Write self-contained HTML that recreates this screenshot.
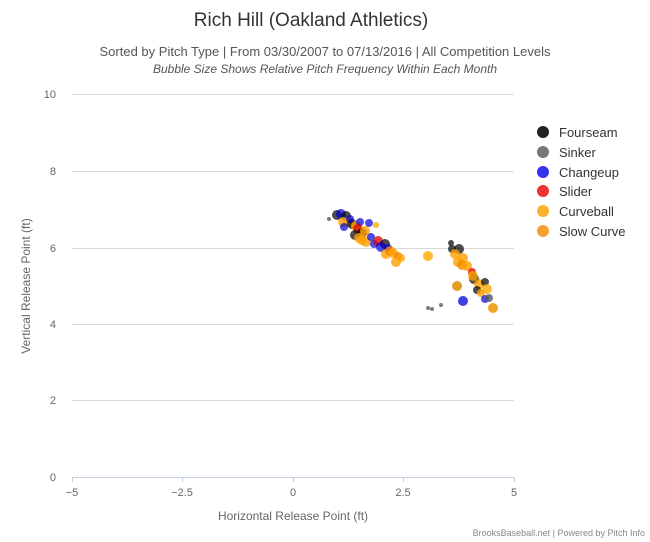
<!DOCTYPE html>
<html><head><meta charset="utf-8"><style>
body{margin:0;background:#fff;}
svg{display:block;font-family:"Liberation Sans",sans-serif;}
</style></head><body>
<svg width="650" height="542" viewBox="0 0 650 542">
<rect width="650" height="542" fill="#fff"/>
<text x="311" y="26" text-anchor="middle" font-size="19" fill="#333">Rich Hill (Oakland Athletics)</text>
<text x="325" y="56" text-anchor="middle" font-size="13" fill="#555">Sorted by Pitch Type | From 03/30/2007 to 07/13/2016 | All Competition Levels</text>
<text x="325" y="73" text-anchor="middle" font-size="12" font-style="italic" fill="#555">Bubble Size Shows Relative Pitch Frequency Within Each Month</text>
<g stroke="#d8d8d8" stroke-width="1">
<line x1="72" x2="514" y1="94.5" y2="94.5"/>
<line x1="72" x2="514" y1="171.5" y2="171.5"/>
<line x1="72" x2="514" y1="248.5" y2="248.5"/>
<line x1="72" x2="514" y1="324.5" y2="324.5"/>
<line x1="72" x2="514" y1="400.5" y2="400.5"/>
</g>
<line x1="72" x2="514" y1="477.5" y2="477.5" stroke="#c0d0e0"/>
<g stroke="#c0d0e0"><line x1="72.5" x2="72.5" y1="477" y2="482"/><line x1="182.5" x2="182.5" y1="477" y2="482"/><line x1="293.5" x2="293.5" y1="477" y2="482"/><line x1="403.5" x2="403.5" y1="477" y2="482"/><line x1="514.5" x2="514.5" y1="477" y2="482"/></g>
<g font-size="11" fill="#666" text-anchor="end">
<text x="56" y="98">10</text><text x="56" y="175">8</text><text x="56" y="252">6</text><text x="56" y="328">4</text><text x="56" y="404">2</text><text x="56" y="481">0</text>
</g>
<g font-size="11" fill="#666" text-anchor="middle">
<text x="72" y="496">−5</text><text x="182" y="496">−2.5</text><text x="293" y="496">0</text><text x="403" y="496">2.5</text><text x="514" y="496">5</text>
</g>
<text x="293" y="520" text-anchor="middle" font-size="12" fill="#666">Horizontal Release Point (ft)</text>
<text transform="translate(30,286) rotate(-90)" text-anchor="middle" font-size="12" fill="#666">Vertical Release Point (ft)</text>
<text x="645" y="536" text-anchor="end" font-size="9" fill="#888">BrooksBaseball.net | Powered by Pitch Info</text>
<g>
<circle cx="329" cy="219" r="2" fill="rgba(90,90,90,0.8)"/>
<circle cx="337" cy="215" r="5" fill="rgba(0,0,0,0.7)"/>
<circle cx="341" cy="214" r="5" fill="rgba(0,0,220,0.7)"/>
<circle cx="346" cy="216" r="5" fill="rgba(0,0,0,0.7)"/>
<circle cx="343" cy="222" r="5" fill="rgba(255,160,0,0.8)"/>
<circle cx="349" cy="222" r="5" fill="rgba(255,160,0,0.8)"/>
<circle cx="344" cy="227" r="4" fill="rgba(0,0,220,0.7)"/>
<circle cx="352" cy="224" r="5" fill="rgba(0,0,0,0.7)"/>
<circle cx="350" cy="219" r="4" fill="rgba(0,0,220,0.7)"/>
<circle cx="356" cy="226" r="5" fill="rgba(255,160,0,0.8)"/>
<circle cx="360" cy="222" r="4" fill="rgba(0,0,220,0.7)"/>
<circle cx="369" cy="223" r="4" fill="rgba(0,0,220,0.7)"/>
<circle cx="376" cy="225" r="3" fill="rgba(255,170,0,0.8)"/>
<circle cx="358" cy="229" r="5" fill="rgba(220,0,0,0.75)"/>
<circle cx="362" cy="233" r="5" fill="rgba(0,0,0,0.7)"/>
<circle cx="365" cy="231" r="5" fill="rgba(255,160,0,0.8)"/>
<circle cx="355" cy="235" r="5" fill="rgba(0,0,0,0.7)"/>
<circle cx="359" cy="238" r="5" fill="rgba(255,160,0,0.8)"/>
<circle cx="362" cy="240" r="5" fill="rgba(255,160,0,0.8)"/>
<circle cx="366" cy="242" r="5" fill="rgba(255,160,0,0.8)"/>
<circle cx="371" cy="237" r="4" fill="rgba(0,0,220,0.7)"/>
<circle cx="374" cy="244" r="4" fill="rgba(0,0,220,0.7)"/>
<circle cx="378" cy="241" r="5" fill="rgba(220,0,0,0.75)"/>
<circle cx="385" cy="244" r="5" fill="rgba(0,0,0,0.7)"/>
<circle cx="381" cy="247" r="5" fill="rgba(0,0,220,0.7)"/>
<circle cx="388" cy="248" r="4" fill="rgba(0,0,220,0.7)"/>
<circle cx="386" cy="254" r="5" fill="rgba(255,160,0,0.8)"/>
<circle cx="390" cy="251" r="5" fill="rgba(240,130,0,0.8)"/>
<circle cx="393" cy="253" r="5" fill="rgba(255,160,0,0.8)"/>
<circle cx="398" cy="256" r="4" fill="rgba(240,130,0,0.8)"/>
<circle cx="396" cy="262" r="5" fill="rgba(255,160,0,0.8)"/>
<circle cx="401" cy="258" r="4" fill="rgba(255,160,0,0.8)"/>
<circle cx="428" cy="256" r="5" fill="rgba(255,170,0,0.8)"/>
<circle cx="451" cy="243" r="3" fill="rgba(0,0,0,0.7)"/>
<circle cx="459" cy="249" r="5" fill="rgba(0,0,0,0.7)"/>
<circle cx="452" cy="249" r="4" fill="rgba(0,0,0,0.7)"/>
<circle cx="455" cy="254" r="5" fill="rgba(255,160,0,0.8)"/>
<circle cx="463" cy="258" r="5" fill="rgba(255,160,0,0.8)"/>
<circle cx="458" cy="262" r="5" fill="rgba(255,160,0,0.8)"/>
<circle cx="462" cy="265" r="5" fill="rgba(240,140,0,0.8)"/>
<circle cx="467" cy="266" r="5" fill="rgba(255,160,0,0.8)"/>
<circle cx="472" cy="272" r="4" fill="rgba(220,0,0,0.75)"/>
<circle cx="474" cy="279" r="5" fill="rgba(0,0,0,0.7)"/>
<circle cx="473" cy="276" r="5" fill="rgba(255,160,0,0.8)"/>
<circle cx="479" cy="284" r="5" fill="rgba(255,160,0,0.8)"/>
<circle cx="477" cy="290" r="4" fill="rgba(0,0,0,0.7)"/>
<circle cx="485" cy="282" r="4" fill="rgba(0,0,0,0.7)"/>
<circle cx="487" cy="289" r="5" fill="rgba(255,170,0,0.8)"/>
<circle cx="481" cy="293" r="4" fill="rgba(255,160,0,0.8)"/>
<circle cx="457" cy="286" r="5" fill="rgba(220,140,0,0.85)"/>
<circle cx="463" cy="301" r="5" fill="rgba(0,0,220,0.75)"/>
<circle cx="485" cy="299" r="4" fill="rgba(0,0,220,0.7)"/>
<circle cx="489" cy="298" r="4" fill="rgba(90,90,90,0.8)"/>
<circle cx="493" cy="308" r="5" fill="rgba(240,150,0,0.85)"/>
<circle cx="428" cy="308" r="2" fill="rgba(90,90,90,0.8)"/>
<circle cx="432" cy="309" r="2" fill="rgba(90,90,90,0.8)"/>
<circle cx="441" cy="305" r="2" fill="rgba(90,90,90,0.8)"/>
</g>
<g font-size="13" fill="#333">
<circle cx="543" cy="132" r="6" fill="#222"/><text x="559" y="137">Fourseam</text>
<circle cx="543" cy="152" r="6" fill="#777"/><text x="559" y="157">Sinker</text>
<circle cx="543" cy="172" r="6" fill="#3333ee"/><text x="559" y="177">Changeup</text>
<circle cx="543" cy="191" r="6" fill="#ee3333"/><text x="559" y="196">Slider</text>
<circle cx="543" cy="211" r="6" fill="#fbb030"/><text x="559" y="216">Curveball</text>
<circle cx="543" cy="231" r="6" fill="#f6a030"/><text x="559" y="236">Slow Curve</text>
</g>
</svg>
</body></html>
